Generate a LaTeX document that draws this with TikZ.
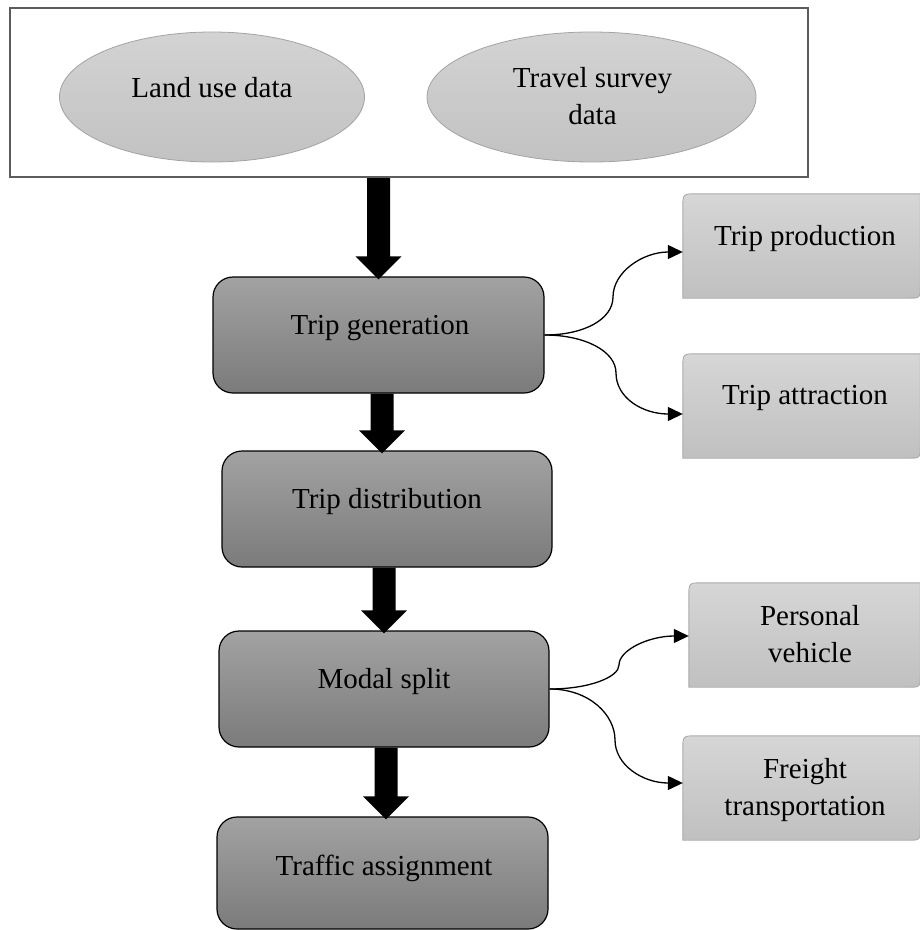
\documentclass[tikz,border=0pt]{standalone}
\usepackage{fontspec}
\setmainfont{Liberation Serif}
\usetikzlibrary{shapes.geometric,arrows.meta,calc}
\definecolor{framegray}{HTML}{5C5C5C}
\definecolor{mainTop}{HTML}{A2A2A2}
\definecolor{mainBot}{HTML}{7B7B7B}
\definecolor{sideTop}{HTML}{D6D6D6}
\definecolor{sideBot}{HTML}{C0C0C0}
\definecolor{sideLine}{HTML}{ABABAB}
\definecolor{ovalTop}{HTML}{D3D3D3}
\definecolor{ovalBot}{HTML}{C2C2C2}
\definecolor{ovalLine}{HTML}{A3A3A3}
\tikzset{
  frameBox/.style={draw=framegray, line width=2.2pt, minimum width=798pt, minimum height=169pt, inner sep=0pt},
  oval/.style={ellipse, draw=ovalLine, line width=0.8pt, top color=ovalTop, bottom color=ovalBot, inner sep=0pt, minimum height=130pt},
  mainbox/.style={draw=black, line width=1.2pt, rounded corners=20pt, top color=mainTop, bottom color=mainBot, minimum width=331pt, minimum height=116pt, inner sep=0pt},
  sidebox/.style={draw=none, minimum width=237pt, minimum height=104pt, inner sep=0pt},
  sideshape/.style={draw=sideLine, line width=0.9pt, top color=sideTop, bottom color=sideBot},
  lbl/.style={font=\fontsize{29}{36.5}\selectfont, align=center, inner sep=0pt, anchor=base},
  blockarrow/.style={fill=black},
  link/.style={draw=black, line width=1.3pt, -{Triangle[length=15pt,width=14pt]}},
}
\newcommand\drawside[1]{%
  \path[sideshape] (#1.south west) -- ($(#1.north west)+(0,14)$) .. controls (#1.north west) .. ($(#1.north west)+(14,0)$)
    -- (#1.north east) -- ($(#1.south east)+(0,-12)$) .. controls (#1.south east) .. ($(#1.south east)+(-12,0)$) -- cycle;}
\newcommand\blockarr[3]{%
  \fill[blockarrow] let \p1=(#1.south), \p2=(#2.north) in
    (\x2+#3pt-11.5pt,\y1) -- (\x2+#3pt+11.5pt,\y1) -- (\x2+#3pt+11.5pt,\y2+20pt) -- (\x2+#3pt+23pt,\y2+20pt)
    -- (\x2+#3pt,\y2-3pt) -- (\x2+#3pt-23pt,\y2+20pt) -- (\x2+#3pt-11.5pt,\y2+20pt) -- cycle;}
\begin{document}
\begin{tikzpicture}[x=1pt,y=-1pt]
\useasboundingbox (0,0) rectangle (920,930);
% input frame
\node[frameBox] (frame) at (409,92.5) {};
\node[oval, minimum width=305pt] (lu) at (212,97) {};
\node[lbl] (lu-t) at (212,97) {Land use data};
\node[oval, minimum width=329pt] (ts) at (591.5,97) {};
\node[lbl] (ts-t) at (592.5,124) {Travel survey\\data};
% main chain
\node[mainbox] (tg) at (378.5,335) {};
\node[lbl] (tg-t) at (380,334) {Trip generation};
\node[mainbox, minimum width=330pt] (td) at (387,509) {};
\node[lbl] (td-t) at (387,508) {Trip distribution};
\node[mainbox, minimum width=330pt] (ms) at (384,689) {};
\node[lbl] (ms-t) at (384,688) {Modal split};
\node[mainbox, minimum height=112pt] (ta) at (382.5,873) {};
\node[lbl] (ta-t) at (384,875) {Traffic assignment};
% block arrows
\blockarr{frame}{tg}{0}
\blockarr{tg}{td}{-5}
\blockarr{td}{ms}{0}
\blockarr{ms}{ta}{3.5}
% side boxes
\node[sidebox] (tp) at (801.5,246) {};
\drawside{tp}
\node[lbl] (tp-t) at (805,245) {Trip production};
\node[sidebox] (tat) at (801.5,406) {};
\drawside{tat}
\node[lbl] (tat-t) at (805,404) {Trip attraction};
\node[sidebox, minimum width=231pt] (pv) at (804.5,635) {};
\drawside{pv}
\node[lbl] (pv-t) at (810,662) {Personal\\vehicle};
\node[sidebox] (ft) at (801.5,788) {};
\drawside{ft}
\node[lbl] (ft-t) at (805,815) {Freight\\transportation};
% curved connectors
\coordinate (m1) at (613,297);
\coordinate (m2) at (616,373);
\coordinate (m3) at (619,665);
\coordinate (m4) at (615,740);
\draw[link] (tg.east) .. controls ($(tg.east)+(40,0)$) and ($(m1)+(0,22)$) .. (m1)
  .. controls ($(m1)+(0,-25)$) and ($(tp.west)+(-40,6)$) .. ($(tp.west)+(0,6)$);
\draw[link] (tg.east) .. controls ($(tg.east)+(40,0)$) and ($(m2)+(0,-22)$) .. (m2)
  .. controls ($(m2)+(0,25)$) and ($(tat.west)+(-40,8)$) .. ($(tat.west)+(0,8)$);
\draw[link] (ms.east) .. controls ($(ms.east)+(40,0)$) and ($(m3)+(0,12)$) .. (m3)
  .. controls ($(m3)+(0,-15)$) and ($(pv.west)+(-40,1)$) .. ($(pv.west)+(0,1)$);
\draw[link] (ms.east) .. controls ($(ms.east)+(40,0)$) and ($(m4)+(0,-25)$) .. (m4)
  .. controls ($(m4)+(0,25)$) and ($(ft.west)+(-40,-5)$) .. ($(ft.west)+(0,-5)$);
\end{tikzpicture}
\end{document}
